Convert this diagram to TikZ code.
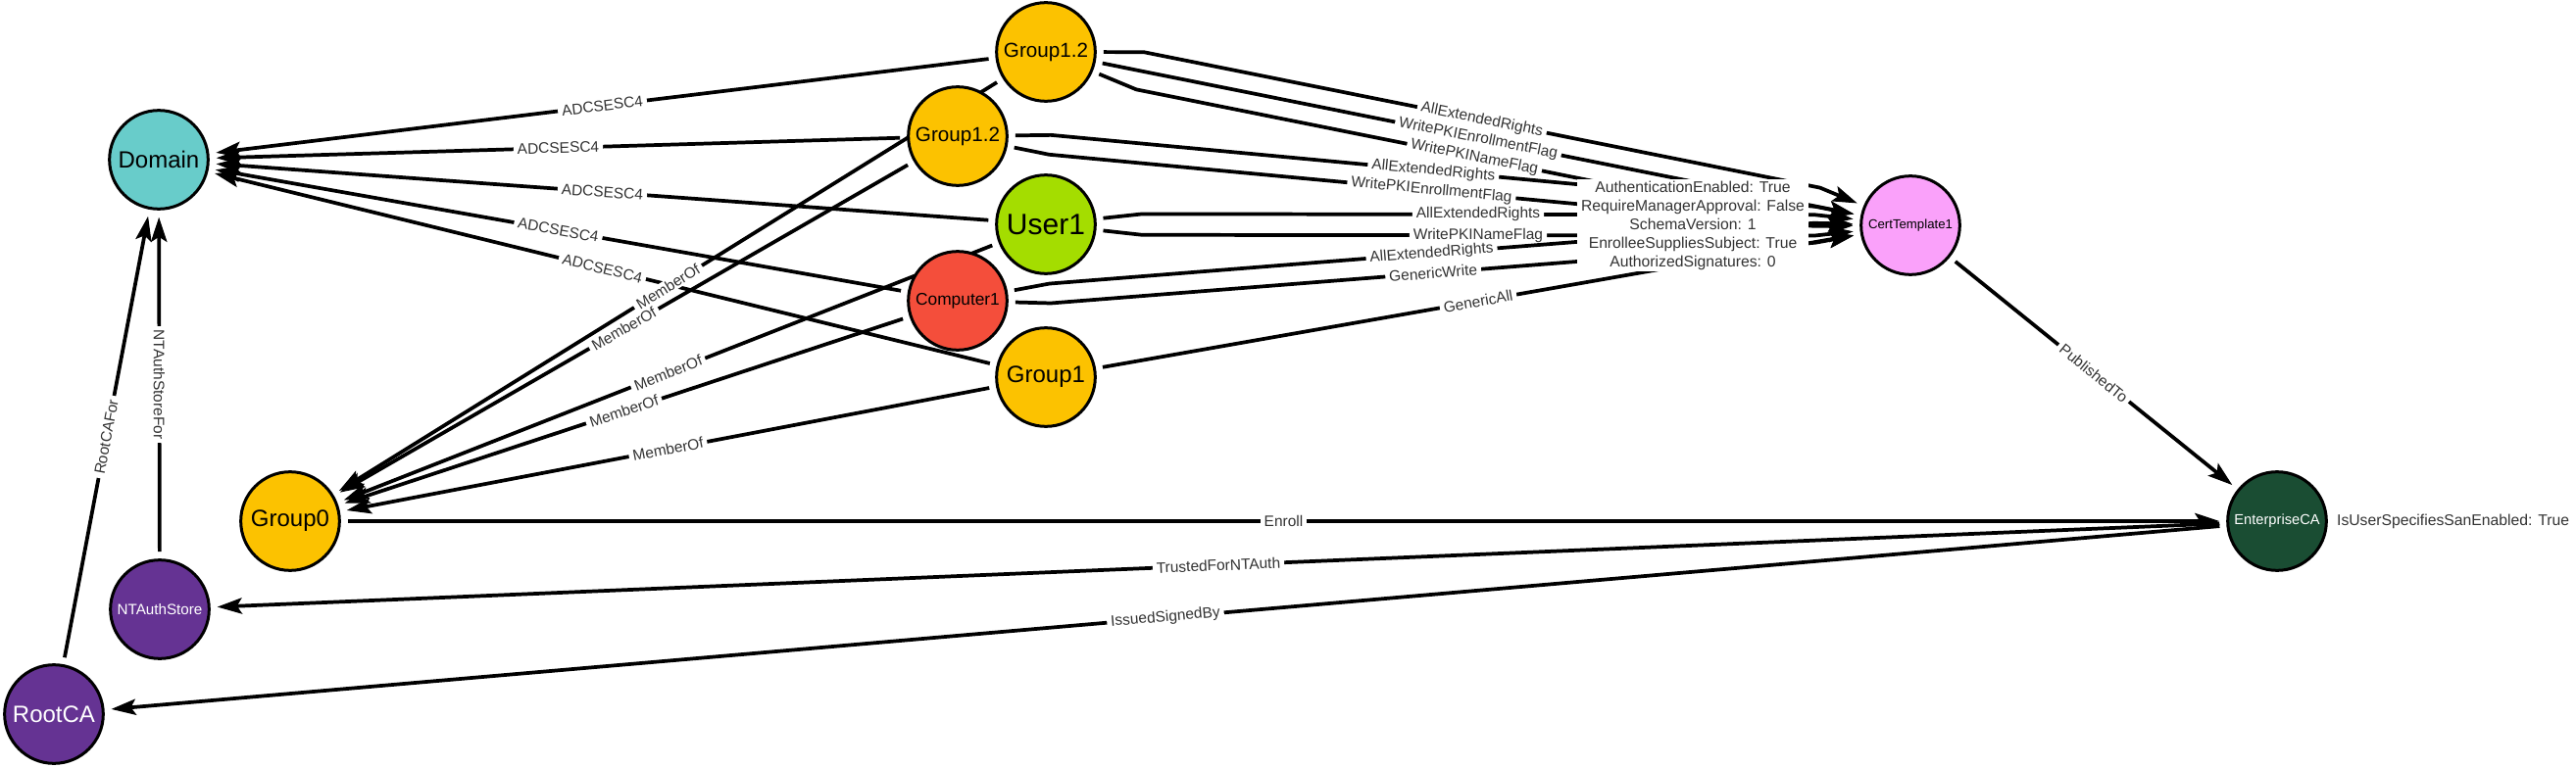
\documentclass[tikz,border=0pt]{standalone}
\usepackage{fontspec}
\setmainfont{Liberation Sans}
\usetikzlibrary{arrows.meta,calc}
\pgfdeclarelayer{edges}
\pgfsetlayers{edges,main}
\definecolor{cDomain}{HTML}{68CCCA}
\definecolor{cGroup}{HTML}{FCC200}
\definecolor{cUser}{HTML}{A4DD00}
\definecolor{cComp}{HTML}{F44E3B}
\definecolor{cCert}{HTML}{FAA1FA}
\definecolor{cEnt}{HTML}{1A4D33}
\definecolor{cPurple}{HTML}{653393}
\definecolor{cLabel}{HTML}{333333}
\newcommand{\fsz}[1]{\fontsize{#1}{#1}\selectfont}
\begin{document}
\begin{tikzpicture}[x=0.75pt, y=-0.75pt,
  ent/.style={circle, draw=black, line width=2.25pt, minimum size=75.5pt, inner sep=0pt, font=\fsz{18}},
  rel/.style={line width=2.8pt, line join=round, -{Stealth[length=19pt, width=12.5pt, inset=4pt, line width=0.8pt]}, shorten >=5.25pt, shorten <=5.25pt},
  elab/.style={fill=white, text=cLabel, inner xsep=3pt, inner ysep=1.2pt, font=\fsz{11.6}, sloped, midway},
  prop/.style={text=cLabel, font=\fontsize{11.8}{14.25}\selectfont}
]
\useasboundingbox (0,0) rectangle (2628,784);

% nodes
\node[ent, fill=cDomain] (dom) at (162,163) {Domain};
\node[ent, fill=cGroup, font=\fsz{15.5}] (g12a) at (1067,53) {Group1.2};
\node[ent, fill=cGroup, font=\fsz{15.5}] (g12b) at (977,139) {Group1.2};
\node[ent, fill=cUser, font=\fsz{22.5}] (u1) at (1067,229) {User1};
\node[ent, fill=cComp, font=\fsz{13}] (c1) at (977,307) {Computer1};
\node[ent, fill=cGroup] (g1) at (1067,385) {Group1};
\node[ent, fill=cGroup] (g0) at (296,532) {Group0};
\node[ent, fill=cPurple, text=white, font=\fsz{11.4}] (nta) at (163,622) {NTAuthStore};
\node[ent, fill=cPurple, text=white] (root) at (55,729) {RootCA};
\node[ent, fill=cCert, font=\fsz{9.9}] (ct) at (1949,230) {CertTemplate1};
\node[ent, fill=cEnt, text=white, font=\fsz{11}] (eca) at (2323,532) {EnterpriseCA};

% kink points of the parallel edges
\coordinate (ka1) at ($(g12a)!73.5pt!(ct)!14.6pt!90:(ct)$);
\coordinate (kb1) at ($(ct)!73.5pt!(g12a)!14.6pt!-90:(g12a)$);
\coordinate (ka2) at ($(g12a)!73.5pt!(ct)!14.6pt!-90:(ct)$);
\coordinate (kb2) at ($(ct)!73.5pt!(g12a)!14.6pt!90:(g12a)$);
\coordinate (kc1) at ($(g12b)!71pt!(ct)!7.5pt!90:(ct)$);
\coordinate (kd1) at ($(ct)!73.5pt!(g12b)!7.5pt!-90:(g12b)$);
\coordinate (kc2) at ($(g12b)!71pt!(ct)!7.5pt!-90:(ct)$);
\coordinate (kd2) at ($(ct)!73.5pt!(g12b)!7.5pt!90:(g12b)$);
\coordinate (ke1) at ($(u1)!73.5pt!(ct)!8pt!90:(ct)$);
\coordinate (kf1) at ($(ct)!73.5pt!(u1)!8pt!-90:(u1)$);
\coordinate (ke2) at ($(u1)!73.5pt!(ct)!8pt!-90:(ct)$);
\coordinate (kf2) at ($(ct)!73.5pt!(u1)!8pt!90:(u1)$);
\coordinate (kg1) at ($(c1)!71pt!(ct)!7.5pt!90:(ct)$);
\coordinate (kh1) at ($(ct)!73.5pt!(c1)!7.5pt!-90:(c1)$);
\coordinate (kg2) at ($(c1)!71pt!(ct)!7.5pt!-90:(ct)$);
\coordinate (kh2) at ($(ct)!73.5pt!(c1)!7.5pt!90:(c1)$);

\begin{pgfonlayer}{edges}
% ADCSESC4
\draw[rel] (g12a) -- node[elab]{ADCSESC4} (dom);
\draw[rel] (g12b) -- node[elab]{ADCSESC4} (dom);
\draw[rel] (u1) -- node[elab]{ADCSESC4} (dom);
\draw[rel] (c1) -- node[elab]{ADCSESC4} (dom);
\draw[rel] (g1) -- node[elab]{ADCSESC4} (dom);
% MemberOf
\draw[rel] (g12a) -- node[elab]{MemberOf} (g0);
\draw[rel] (g12b) -- node[elab]{MemberOf} (g0);
\draw[rel] (u1) -- node[elab]{MemberOf} (g0);
\draw[rel] (c1) -- node[elab]{MemberOf} (g0);
\draw[rel] (g1) -- node[elab]{MemberOf} (g0);
% to CertTemplate1
\draw[rel] (g12a) -- (ka1) -- node[elab]{AllExtendedRights} (kb1) -- (ct);
\draw[rel] (g12a) -- node[elab]{WritePKIEnrollmentFlag} (ct);
\draw[rel] (g12a) -- (ka2) -- node[elab]{WritePKINameFlag} (kb2) -- (ct);
\draw[rel] (g12b) -- (kc1) -- node[elab]{AllExtendedRights} (kd1) -- (ct);
\draw[rel] (g12b) -- (kc2) -- node[elab]{WritePKIEnrollmentFlag} (kd2) -- (ct);
\draw[rel] (u1) -- (ke1) -- node[elab]{AllExtendedRights} (kf1) -- (ct);
\draw[rel] (u1) -- (ke2) -- node[elab]{WritePKINameFlag} (kf2) -- (ct);
\draw[rel] (c1) -- (kg1) -- node[elab]{AllExtendedRights} (kh1) -- (ct);
\draw[rel] (c1) -- (kg2) -- node[elab]{GenericWrite} (kh2) -- (ct);
\draw[rel] (g1) -- node[elab]{GenericAll} (ct);
% others
\draw[rel] (ct) -- node[elab]{PublishedTo} (eca);
\draw[rel] (g0) -- node[elab]{Enroll} (eca);
\draw[rel] (eca) -- node[elab]{TrustedForNTAuth} (nta);
\draw[rel] (eca) -- node[elab]{IssuedSignedBy} (root);
\draw[rel] (root) -- node[elab]{RootCAFor} (dom);
\draw[rel] (nta) -- node[elab, sloped=false, rotate=-90]{NTAuthStoreFor} (dom);
\end{pgfonlayer}

% property labels
\node[prop, fill=white, align=center, inner xsep=3pt, inner ysep=1pt] (ctprops) at (1727,230)
  {AuthenticationEnabled: True\\RequireManagerApproval: False\\SchemaVersion: 1\\EnrolleeSuppliesSubject: True\\AuthorizedSignatures: 0};
\node[prop, anchor=west, inner sep=0pt] (ecaprops) at ($(eca.east)+(9,0)$) {IsUserSpecifiesSanEnabled: True};
\end{tikzpicture}
\end{document}
